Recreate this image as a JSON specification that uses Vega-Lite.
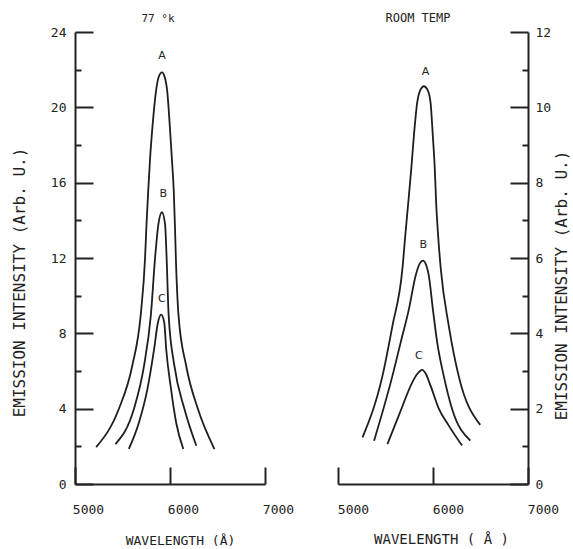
{
  "$schema": "https://vega.github.io/schema/vega-lite/v6.json",
  "padding": {"left": 11, "top": 12, "right": 0, "bottom": 0},
  "bounds": "flush",
  "spacing": 73,
  "datasets": {
    "k77": [
      {"curve": "A", "x": 5223, "y": 1.96}, {"curve": "A", "x": 5461, "y": 3.98}, {"curve": "A", "x": 5603, "y": 6.28},
      {"curve": "A", "x": 5691, "y": 8.94}, {"curve": "A", "x": 5737, "y": 11.95}, {"curve": "A", "x": 5752, "y": 13.7},
      {"curve": "A", "x": 5770, "y": 15.5}, {"curve": "A", "x": 5790, "y": 17.26}, {"curve": "A", "x": 5816, "y": 19.0},
      {"curve": "A", "x": 5851, "y": 20.8}, {"curve": "A", "x": 5880, "y": 21.6}, {"curve": "A", "x": 5915, "y": 21.86},
      {"curve": "A", "x": 5945, "y": 21.6}, {"curve": "A", "x": 5972, "y": 20.8}, {"curve": "A", "x": 5998, "y": 19.0},
      {"curve": "A", "x": 6020, "y": 17.26}, {"curve": "A", "x": 6040, "y": 15.5}, {"curve": "A", "x": 6052, "y": 13.7},
      {"curve": "A", "x": 6062, "y": 11.95}, {"curve": "A", "x": 6090, "y": 8.94}, {"curve": "A", "x": 6170, "y": 6.28},
      {"curve": "A", "x": 6294, "y": 3.98}, {"curve": "A", "x": 6468, "y": 1.85},
      {"curve": "B", "x": 5426, "y": 2.12}, {"curve": "B", "x": 5620, "y": 3.98}, {"curve": "B", "x": 5727, "y": 6.28},
      {"curve": "B", "x": 5798, "y": 8.94}, {"curve": "B", "x": 5846, "y": 12.2}, {"curve": "B", "x": 5878, "y": 13.8},
      {"curve": "B", "x": 5915, "y": 14.43}, {"curve": "B", "x": 5948, "y": 13.8}, {"curve": "B", "x": 5963, "y": 12.2},
      {"curve": "B", "x": 5986, "y": 8.94}, {"curve": "B", "x": 6046, "y": 6.28}, {"curve": "B", "x": 6152, "y": 3.98},
      {"curve": "B", "x": 6277, "y": 2.03},
      {"curve": "C", "x": 5567, "y": 1.86}, {"curve": "C", "x": 5674, "y": 3.28}, {"curve": "C", "x": 5762, "y": 5.04},
      {"curve": "C", "x": 5833, "y": 7.17}, {"curve": "C", "x": 5872, "y": 8.55}, {"curve": "C", "x": 5907, "y": 8.99},
      {"curve": "C", "x": 5940, "y": 8.55}, {"curve": "C", "x": 5960, "y": 7.17}, {"curve": "C", "x": 6011, "y": 5.04},
      {"curve": "C", "x": 6064, "y": 3.28}, {"curve": "C", "x": 6140, "y": 1.86}
    ],
    "room": [
      {"curve": "A", "x": 5258, "y": 1.24}, {"curve": "A", "x": 5468, "y": 2.87}, {"curve": "A", "x": 5573, "y": 4.2},
      {"curve": "A", "x": 5678, "y": 5.71}, {"curve": "A", "x": 5708, "y": 6.59}, {"curve": "A", "x": 5740, "y": 7.48},
      {"curve": "A", "x": 5771, "y": 8.36}, {"curve": "A", "x": 5799, "y": 9.25}, {"curve": "A", "x": 5834, "y": 10.13},
      {"curve": "A", "x": 5865, "y": 10.45}, {"curve": "A", "x": 5904, "y": 10.56}, {"curve": "A", "x": 5945, "y": 10.45},
      {"curve": "A", "x": 5974, "y": 10.13}, {"curve": "A", "x": 5998, "y": 9.25}, {"curve": "A", "x": 6019, "y": 8.36},
      {"curve": "A", "x": 6033, "y": 7.48}, {"curve": "A", "x": 6054, "y": 6.59}, {"curve": "A", "x": 6082, "y": 5.71},
      {"curve": "A", "x": 6166, "y": 4.2}, {"curve": "A", "x": 6270, "y": 2.87}, {"curve": "A", "x": 6497, "y": 1.57},
      {"curve": "B", "x": 5380, "y": 1.15}, {"curve": "B", "x": 5573, "y": 2.87}, {"curve": "B", "x": 5660, "y": 3.76},
      {"curve": "B", "x": 5747, "y": 4.65}, {"curve": "B", "x": 5817, "y": 5.53}, {"curve": "B", "x": 5860, "y": 5.85},
      {"curve": "B", "x": 5894, "y": 5.93}, {"curve": "B", "x": 5930, "y": 5.8}, {"curve": "B", "x": 5956, "y": 5.53},
      {"curve": "B", "x": 5998, "y": 4.65}, {"curve": "B", "x": 6044, "y": 3.76}, {"curve": "B", "x": 6113, "y": 2.87},
      {"curve": "B", "x": 6201, "y": 1.99}, {"curve": "B", "x": 6393, "y": 1.15},
      {"curve": "C", "x": 5520, "y": 1.06}, {"curve": "C", "x": 5653, "y": 1.9}, {"curve": "C", "x": 5782, "y": 2.7},
      {"curve": "C", "x": 5834, "y": 2.92}, {"curve": "C", "x": 5887, "y": 3.03}, {"curve": "C", "x": 5925, "y": 2.92},
      {"curve": "C", "x": 5974, "y": 2.61}, {"curve": "C", "x": 6061, "y": 2.0}, {"curve": "C", "x": 6166, "y": 1.55},
      {"curve": "C", "x": 6306, "y": 1.02}
    ],
    "lab77": [
      {"label": "A", "x": 5915, "y": 22.7},
      {"label": "B", "x": 5930, "y": 15.4},
      {"label": "C", "x": 5915, "y": 9.8}
    ],
    "labroom": [
      {"label": "A", "x": 5921, "y": 10.95},
      {"label": "B", "x": 5897, "y": 6.34},
      {"label": "C", "x": 5851, "y": 3.41}
    ]
  },
  "hconcat": [
    {
      "width": 190,
      "height": 452,
      "title": {"text": "77 °k", "dx": -12, "offset": 2, "frame": "group"},
      "encoding": {
        "x": {"field": "x", "type": "quantitative",
          "scale": {"domain": [5000, 7000], "nice": false, "zero": false},
          "axis": {"values": [5000, 6000, 7000], "format": "d", "tickSize": -17, "labelPadding": 36, "labelOffset": 13,
            "labelFlush": false, "labelOverlap": false, "title": "WAVELENGTH (Å)", "titleX": 105, "titlePadding": 18}}
      },
      "layer": [
        {
          "data": {"name": "k77"},
          "mark": {"type": "line", "interpolate": "monotone", "color": "#1e1e1e", "strokeWidth": 1.8},
          "encoding": {
            "y": {"field": "y", "type": "quantitative",
              "scale": {"domain": [0, 24], "nice": false},
              "axis": {"orient": "left", "values": [0, 4, 8, 12, 16, 20, 24], "tickSize": -18, "labelPadding": 27,
                "title": "EMISSION INTENSITY (Arb. U.)", "titleY": 250, "titlePadding": 23}},
            "detail": {"field": "curve"}
          }
        },
        {
          "data": {"name": "lab77"},
          "mark": {"type": "text", "font": "DejaVu Sans", "fontSize": 11, "color": "#222", "baseline": "middle"},
          "encoding": {
            "y": {"field": "y", "type": "quantitative",
              "axis": {"orient": "left", "values": [2, 6, 10, 14, 18, 22], "tickSize": -6, "labels": false, "domain": false, "title": null}},
            "text": {"field": "label"}
          }
        }
      ],
      "resolve": {"axis": {"y": "independent"}}
    },
    {
      "width": 190,
      "height": 452,
      "title": {"text": "ROOM TEMP", "dx": -15, "offset": 1, "frame": "group", "fontSize": 12},
      "encoding": {
        "x": {"field": "x", "type": "quantitative",
          "scale": {"domain": [5000, 7000], "nice": false, "zero": false},
          "axis": {"values": [5000, 6000, 7000], "format": "d", "tickSize": -17, "labelPadding": 36, "labelOffset": 15,
            "labelFlush": false, "labelOverlap": false, "title": "WAVELENGTH ( Å )", "titleFontSize": 14, "titleX": 103, "titlePadding": 16}}
      },
      "layer": [
        {
          "data": {"name": "room"},
          "mark": {"type": "line", "interpolate": "monotone", "color": "#1e1e1e", "strokeWidth": 1.8},
          "encoding": {
            "y": {"field": "y", "type": "quantitative",
              "scale": {"domain": [0, 12], "nice": false},
              "axis": {"orient": "right", "values": [0, 2, 4, 6, 8, 10, 12], "tickSize": -18, "labelPadding": 25,
                "title": "EMISSION INTENSITY (Arb. U.)", "titleAngle": -90, "titleBaseline": "top", "titleY": 253, "titlePadding": 3}},
            "detail": {"field": "curve"}
          }
        },
        {
          "data": {"name": "labroom"},
          "mark": {"type": "text", "font": "DejaVu Sans", "fontSize": 11, "color": "#222", "baseline": "middle"},
          "encoding": {
            "y": {"field": "y", "type": "quantitative",
              "axis": {"orient": "right", "values": [1, 3, 5, 7, 9, 11], "tickSize": -6, "labels": false, "domain": false, "title": null}},
            "text": {"field": "label"}
          }
        }
      ],
      "resolve": {"axis": {"y": "independent"}}
    }
  ],
  "config": {
    "view": {"stroke": null},
    "font": "DejaVu Sans Mono",
    "axis": {
      "grid": false,
      "domainColor": "#222", "domainWidth": 2,
      "tickColor": "#222", "tickWidth": 2,
      "labelFont": "DejaVu Sans Mono", "labelFontSize": 13, "labelColor": "#222",
      "titleFont": "DejaVu Sans Mono", "titleFontSize": 16, "titleFontWeight": "normal", "titleColor": "#222"
    },
    "axisX": {"titleFontSize": 13},
    "title": {"font": "DejaVu Sans Mono", "fontSize": 11, "fontWeight": "normal", "color": "#222"}
  }
}
